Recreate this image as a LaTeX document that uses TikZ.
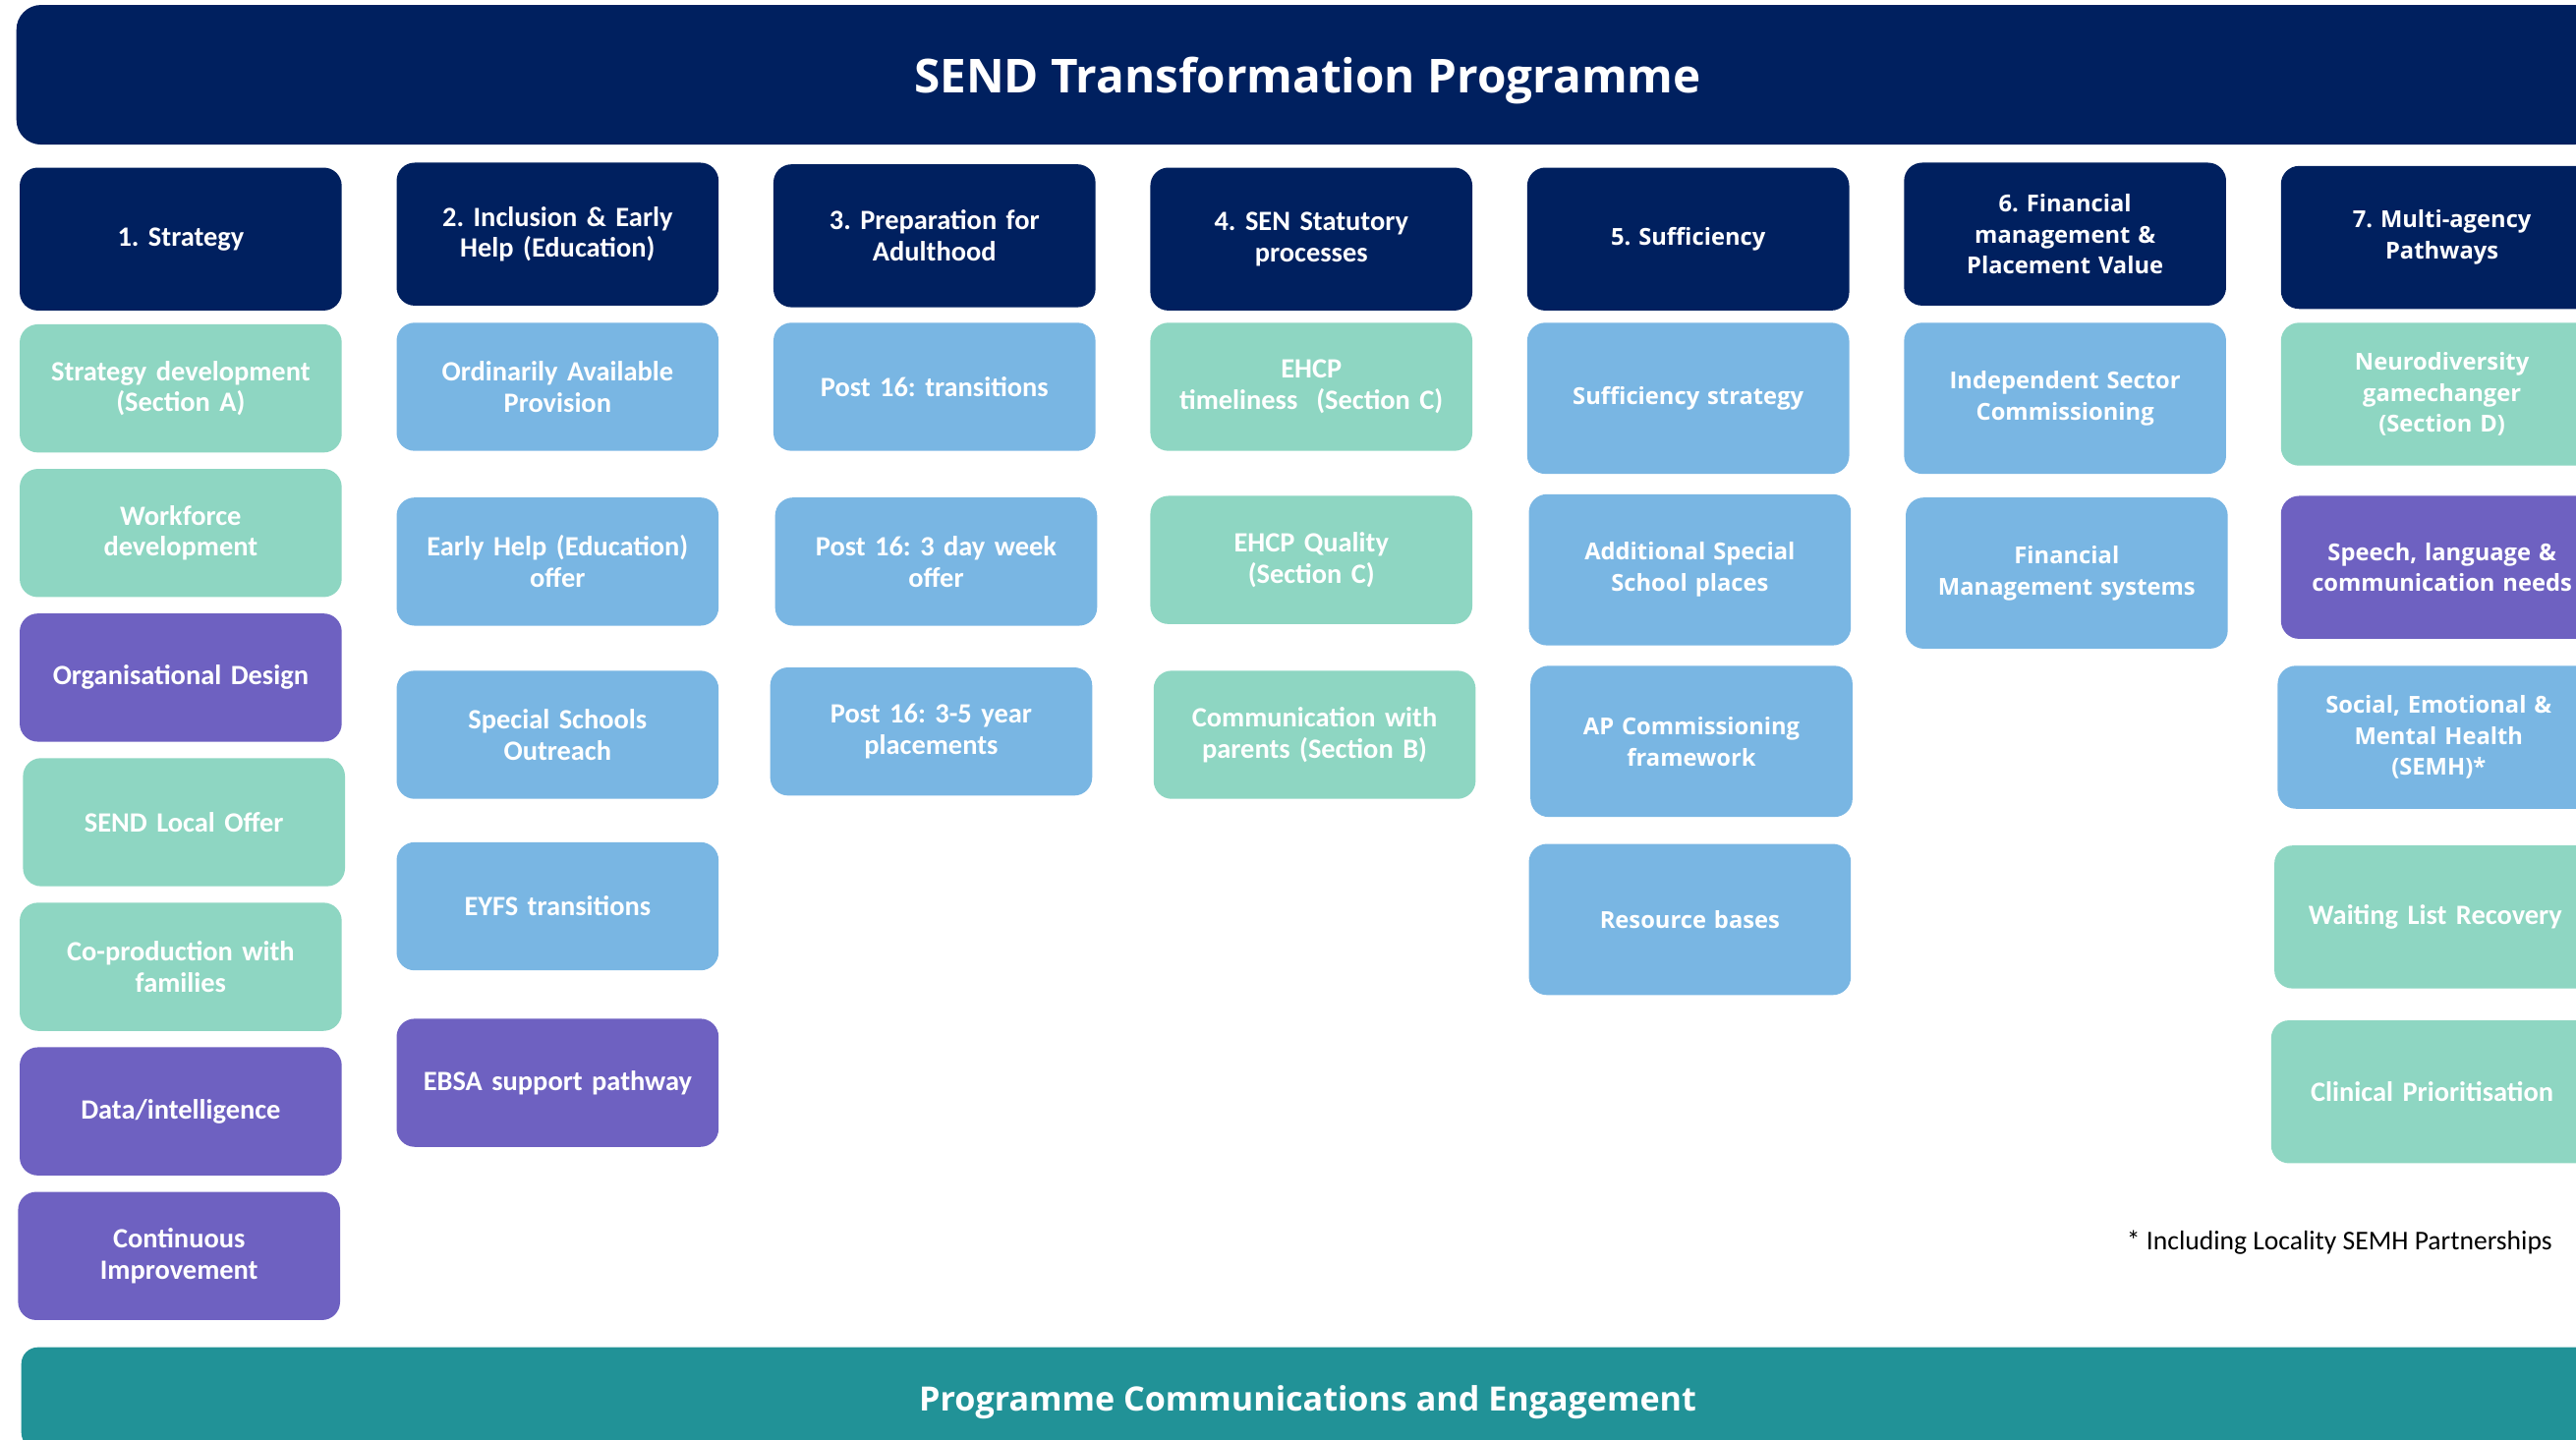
\documentclass[tikz,border=0pt]{standalone}
\usepackage{fontspec}
\setmainfont{Carlito}
\newfontfamily\widefont{Open Sans}
\usetikzlibrary{positioning}
\definecolor{sendnavy}{HTML}{00205F}
\definecolor{sendmint}{HTML}{8ED6C2}
\definecolor{sendsky}{HTML}{79B6E3}
\definecolor{sendpurple}{HTML}{6E61C1}
\definecolor{sendteal}{HTML}{219297}
\frenchspacing

\begin{document}
\begin{tikzpicture}[
    x=1pt, y=-1pt,
    node distance = 9.6pt and 33pt,
    tile/.style = {rectangle, rounded corners=11pt, text=white, align=center,
                   font=\bfseries\fontsize{17}{19}\selectfont,
                   minimum width=196pt, minimum height=78pt, text width=190pt, inner sep=0pt},
    hdr/.style = {tile, fill=sendnavy, minimum height=87pt},
    grn/.style = {tile, fill=sendmint},
    blu/.style = {tile, fill=sendsky},
    prp/.style = {tile, fill=sendpurple},
    wide/.style = {font=\widefont\bfseries\fontsize{14.2}{19}\selectfont},
    tall/.style = {minimum height=92pt},
    mid/.style = {minimum height=87pt}
    ]
  \useasboundingbox (0,0) rectangle (1568,876);

  \node[fill=sendnavy, rounded corners=15pt, minimum width=1572pt, minimum height=85pt, text depth=0pt,
        text=white, font=\widefont\bfseries\fontsize{28.5}{32}\selectfont] (title) at (796,45.5)
        {SEND Transformation Programme} ;

  % workstream headers
  \node[hdr] (h1) at (110,145.5) {1. Strategy} ;
  \node[hdr] (h2) [right=of h1, yshift=3pt] {2. Inclusion \& Early\\Help (Education)} ;
  \node[hdr] (h3) [right=of h2, yshift=-1pt] {3. Preparation for\\Adulthood} ;
  \node[hdr] (h4) [right=of h3, yshift=-2pt] {4. SEN Statutory\\processes} ;
  \node[hdr, wide] (h5) [right=of h4] {5. Sufficiency} ;
  \node[hdr, wide] (h6) [right=of h5, yshift=3pt] {6. Financial\\management \&\\Placement Value} ;
  \node[hdr, wide] (h7) [right=of h6, yshift=-2pt] {7. Multi-agency\\Pathways} ;

  % 1
  \node[grn] (stratdev) [below=8pt of h1] {Strategy development\\(Section A)} ;
  \node[grn] (workforce) [below=of stratdev] {Workforce\\development} ;
  \node[prp] (orgdesign) [below=of workforce] {Organisational Design} ;
  \node[grn] (localoffer) [below=of orgdesign, xshift=2pt] {SEND Local Offer} ;
  \node[grn] (coprod) [below=of localoffer, xshift=-2pt] {Co-production with\\families} ;
  \node[prp] (data) [below=of coprod] {Data/intelligence} ;
  \node[prp] (improve) [below=of data, xshift=-1pt] {Continuous\\Improvement} ;

  % 2
  \node[blu] (oap) [below=10pt of h2] {Ordinarily Available\\Provision} ;
  \node[blu] (earlyhelp) [below=28pt of oap] {Early Help (Education)\\offer} ;
  \node[blu] (outreach) [below=27pt of earlyhelp] {Special Schools\\Outreach} ;
  \node[blu] (eyfs) [below=26pt of outreach] {EYFS transitions} ;
  \node[prp] (ebsa) [below=29pt of eyfs] {EBSA support pathway} ;

  % 3
  \node[blu] (transit) [below=9pt of h3] {Post 16: transitions} ;
  \node[blu] (dayweek) [below=28pt of transit, xshift=1pt] {Post 16: 3 day week\\offer} ;
  \node[blu] (placements) [below=25pt of dayweek, xshift=-3pt] {Post 16: 3-5 year\\placements} ;

  % 4
  \node[grn] (timely) [below=7pt of h4] {EHCP\\timeliness~~(Section C)} ;
  \node[grn] (quality) [below=27pt of timely] {EHCP Quality\\(Section C)} ;
  \node[grn] (parents) [below=28pt of quality, xshift=2pt] {Communication with\\parents (Section B)} ;

  % 5
  \node[blu, wide, tall] (suffstrat) [below=7pt of h5] {Sufficiency strategy} ;
  \node[blu, wide, tall] (places) [below=12pt of suffstrat, xshift=1pt] {Additional Special\\School places} ;
  \node[blu, wide, tall] (apcomm) [below=12pt of places, xshift=1pt] {AP Commissioning\\framework} ;
  \node[blu, wide, tall] (resbases) [below=16pt of apcomm, xshift=-1pt] {Resource bases} ;

  % 6
  \node[blu, wide, tall] (indep) [below=10pt of h6] {Independent Sector\\Commissioning} ;
  \node[blu, wide, tall] (finsys) [below=14pt of indep, xshift=1pt] {Financial\\Management systems} ;

  % 7
  \node[grn, wide, mid] (neuro) [below=8pt of h7] {Neurodiversity\\gamechanger\\(Section D)} ;
  \node[prp, wide, mid] (speech) [below=18pt of neuro] {Speech, language \&\\communication needs} ;
  \node[blu, wide, mid] (semh) [below=16pt of speech, xshift=-2pt] {Social, Emotional \&\\Mental Health\\(SEMH)*} ;
  \node[grn, mid] (waiting) [below=22pt of semh, xshift=-2pt] {Waiting List Recovery} ;
  \node[grn, mid] (clinical) [below=19pt of waiting, xshift=-2pt] {Clinical Prioritisation} ;

  \node[anchor=east, font=\fontsize{16.5}{19}\selectfont] (note) at (1557,756)
        {* Including Locality SEMH Partnerships} ;

  \node[fill=sendteal, rounded corners=10pt, minimum width=1566pt, minimum height=62pt, text depth=0pt,
        text=white, font=\widefont\bfseries\fontsize{20.4}{24}\selectfont] (footer) at (796,851)
        {Programme Communications and Engagement} ;

\end{tikzpicture}
\end{document}
